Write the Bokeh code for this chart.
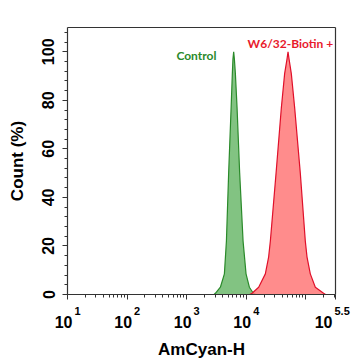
from bokeh.plotting import figure
from bokeh.models import (Range1d, FixedTicker, SingleIntervalTicker, CustomJSTickFormatter,
                          ColumnDataSource, LogAxis, LinearAxis)
from bokeh.embed import file_html
from bokeh.resources import INLINE
from bokeh.core.properties import value

# ---- data ----
green_x = [2900, 3040, 3690, 4310, 4660, 5080, 5590, 5860, 6000, 6170, 6340, 6590, 7030, 7780, 8870, 9950, 11320, 13210, 14500]
green_y = [0, 0.5, 3, 8.5, 22, 50, 77, 91, 97, 100, 97, 91, 77, 50, 22, 8.5, 3, 0.5, 0]

red_x = [11500, 12560, 16220, 20990, 23820, 25470, 31770, 38990, 44260, 48500, 50470, 52500, 57280, 65160, 81100, 98400, 105200, 119400, 144900, 199500, 215000]
red_y = [0, 0.5, 3, 8.5, 15.4, 22, 50, 77, 91, 97, 100, 97, 91, 77, 50, 22, 15.4, 8.5, 3, 0.5, 0]

x_ticks = [10, 100, 1000, 10000, 100000, 10 ** 5.5]
x_label_ticks = [10, 100, 1000, 10000, 10 ** 5.5]
x_tick_base = ["10", "10", "10", "10", "10"]
x_tick_sup = ["1", "2", "3", "4", "5.5"]
y_ticks = [0, 20, 40, 60, 80, 100]

series_names = ["Control", "W6/32-Biotin +"]
name_x = [1460, 55200]
name_y = [98.5, 103.4]

x_label = "AmCyan-H"
y_label = "Count (%)"

GREEN_FILL = "#6cb86c"
GREEN_LINE = "#2a8a2a"
GREEN_TEXT = "#2a8a2a"
RED_FILL = "#ff7878"
RED_LINE = "#e0102a"
RED_TEXT = "#e8192c"
AX = "#333333"
FONT = "Liberation Sans"

# ---- layout (pixels) ----
W, H = 354, 362
BOX_L, BOX_R, BOX_T, BOX_B = 67, 335, 27, 294
LO, HI = 1.0, 5.5          # log10 limits of the box
Y0, Y1 = 0.0, 110.0        # y limits of the box
ppd = (BOX_R - BOX_L) / (HI - LO)
ppu = (BOX_B - BOX_T) / (Y1 - Y0)
x_lo = 10 ** (LO - BOX_L / ppd)
x_hi = 10 ** (HI + (W - BOX_R) / ppd)
y_lo = Y0 - (H - BOX_B) / ppu
y_hi = Y1 + BOX_T / ppu

p = figure(width=W, height=H, x_axis_type="log",
           x_range=Range1d(x_lo, x_hi), y_range=Range1d(y_lo, y_hi),
           output_backend="svg", toolbar_location=None, min_border=0,
           min_border_left=0, min_border_right=0, min_border_top=0, min_border_bottom=0)
p.background_fill_color = "white"
p.border_fill_color = "white"
p.outline_line_color = None
p.grid.visible = False

p.varea(x=green_x, y1=0, y2=green_y, fill_color=GREEN_FILL, fill_alpha=0.85)
p.line(x=green_x, y=green_y, line_color=GREEN_LINE, line_width=1.2)
p.varea(x=red_x, y1=0, y2=red_y, fill_color=RED_FILL, fill_alpha=0.85)
p.line(x=red_x, y=red_y, line_color=RED_LINE, line_width=1.2)

p.text(x=name_x[:1], y=name_y[:1], text=series_names[:1], text_color=GREEN_TEXT,
       text_font=value("Lato"), text_font_style="bold", text_font_size="12px",
       text_align="center", text_baseline="middle")
p.text(x=name_x[1:], y=name_y[1:], text=series_names[1:], text_color=RED_TEXT,
       text_font=value("Lato"), text_font_style="bold", text_font_size="12px",
       text_align="center", text_baseline="middle")

minor = [m * 10 ** k for k in range(1, 6) for m in range(2, 10) if m * 10 ** k < 10 ** HI]

def style_axis(ax):
    ax.axis_line_color = AX
    ax.axis_line_width = 1.2
    ax.major_tick_line_color = AX
    ax.minor_tick_line_color = AX
    ax.major_tick_out = 5
    ax.major_tick_in = 0
    ax.minor_tick_out = 3
    ax.minor_tick_in = 0

xa = p.xaxis[0]
xa.fixed_location = Y0
xa.bounds = (10 ** LO, 10 ** HI)
xa.ticker = FixedTicker(ticks=x_ticks, minor_ticks=minor)
xa.formatter = CustomJSTickFormatter(code="return ''")
style_axis(xa)

ya = p.yaxis[0]
ya.fixed_location = 10 ** LO
ya.bounds = (Y0, Y1)
ya.ticker = SingleIntervalTicker(interval=20, num_minor_ticks=5)
style_axis(ya)
ya.major_label_orientation = "vertical"
ya.major_label_text_font = FONT
ya.major_label_text_font_style = "bold"
ya.major_label_text_font_size = "16px"
ya.major_label_text_color = "black"
ya.major_label_standoff = 8
ya.axis_label = y_label
ya.axis_label_text_font = FONT
ya.axis_label_text_font_style = "bold"
ya.axis_label_text_font_size = "17px"
ya.axis_label_text_color = "black"
ya.axis_label_standoff = 13

# top and right edges of the box
top = LogAxis(fixed_location=Y1, bounds=(10 ** LO, 10 ** HI),
              ticker=FixedTicker(ticks=[]), formatter=CustomJSTickFormatter(code="return ''"))
style_axis(top)
top.major_tick_out = 0
top.minor_tick_out = 0
p.add_layout(top, "above")
right = LinearAxis(fixed_location=10 ** HI, bounds=(Y0, Y1),
                   ticker=FixedTicker(ticks=[]), formatter=CustomJSTickFormatter(code="return ''"))
style_axis(right)
right.major_tick_out = 0
right.minor_tick_out = 0
p.add_layout(right, "right")

# x tick labels with superscripts, and the x axis title
offs = [9 - 4 * len(s) for s in x_tick_sup]
src = ColumnDataSource(dict(x=x_label_ticks, base=x_tick_base, sup=x_tick_sup,
                            off=offs, off2=[o + 2 for o in offs]))
p.text(x="x", y=Y0 - 27 / ppu, text="base", x_offset="off", source=src, text_align="right",
       text_baseline="alphabetic", text_font=value(FONT), text_font_style="bold",
       text_font_size="16px", text_color="black")
p.text(x="x", y=Y0 - 16 / ppu, text="sup", x_offset="off2", source=src, text_align="left",
       text_baseline="alphabetic", text_font=value(FONT), text_font_style="bold",
       text_font_size="11px", text_color="black")
p.text(x=[10 ** ((LO + HI) / 2)], y=[Y0 - 55 / ppu], text=[x_label], text_align="center",
       text_baseline="alphabetic", text_font=value(FONT), text_font_style="bold",
       text_font_size="17px", text_color="black")

open("out.html", "w").write(file_html(p, INLINE))
